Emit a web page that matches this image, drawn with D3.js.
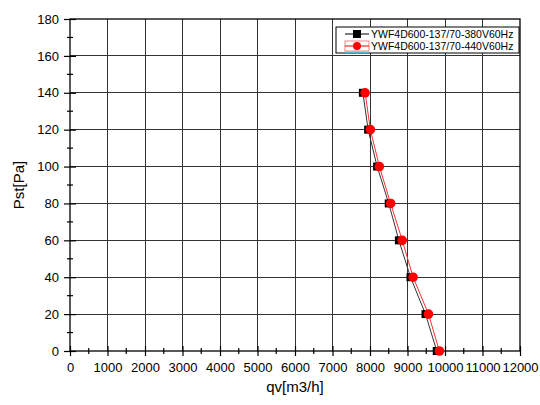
<!DOCTYPE html>
<html>
<head>
<meta charset="utf-8">
<script src="https://cdn.jsdelivr.net/npm/d3@7"></script>
<style>
  body { margin: 0; background: #fff; }
  svg { display: block; font-family: "Liberation Sans", Arial, sans-serif; }
</style>
</head>
<body>
<div id="chart"></div>
<script>
// pressure points (Pa), shared by both curves
const pressure = [140, 120, 100, 80, 60, 40, 20, 0];
// airflow (m3/h) for each curve
const flow380 = [7810, 7950, 8190, 8500, 8770, 9080, 9480, 9780];
const flow440 = [7870, 8010, 8250, 8550, 8860, 9150, 9560, 9850];
const seriesNames = ["YWF4D600-137/70-380V60Hz", "YWF4D600-137/70-440V60Hz"];
const xTicks = d3.range(0, 12001, 1000);
const yTicks = d3.range(0, 181, 20);

const W = 540, H = 405;
const margin = { top: 19, right: 20, bottom: 54, left: 70 };
const iw = W - margin.left - margin.right;
const ih = H - margin.top - margin.bottom;

const svg = d3.select("#chart").append("svg")
  .attr("width", W).attr("height", H);
const g = svg.append("g").attr("transform", `translate(${margin.left},${margin.top})`);

const x = d3.scaleLinear().domain([0, 12000]).range([0, iw]);
const y = d3.scaleLinear().domain([0, 180]).range([ih, 0]);

// grid
g.append("g").selectAll("line").data(xTicks.slice(1, -1)).enter().append("line")
  .attr("x1", d => x(d)).attr("x2", d => x(d)).attr("y1", 0).attr("y2", ih)
  .attr("stroke", "#333").attr("stroke-width", 1).attr("shape-rendering", "crispEdges");
g.append("g").selectAll("line").data(yTicks.slice(1, -1)).enter().append("line")
  .attr("y1", d => y(d)).attr("y2", d => y(d)).attr("x1", 0).attr("x2", iw)
  .attr("stroke", "#333").attr("stroke-width", 1).attr("shape-rendering", "crispEdges");

// frame
g.append("rect").attr("width", iw).attr("height", ih)
  .attr("fill", "none").attr("stroke", "#000").attr("stroke-width", 1.3);

// x axis
const xAxis = g.append("g").attr("transform", `translate(0,${ih})`)
  .call(d3.axisBottom(x).tickValues(xTicks).tickSize(5).tickPadding(7).tickFormat(d3.format("d")));
xAxis.select(".domain").remove();
xAxis.selectAll(".tick line").attr("y1", -5).attr("stroke-width", 1.2);
xAxis.selectAll("text").style("font-size", "13px").attr("fill", "#000");
g.append("g").selectAll("line").data(d3.range(500, 12000, 1000)).enter().append("line")
  .attr("x1", d => x(d)).attr("x2", d => x(d)).attr("y1", ih - 3).attr("y2", ih + 3)
  .attr("stroke", "#000").attr("stroke-width", 1.2);

// y axis
const yAxis = g.append("g")
  .call(d3.axisLeft(y).tickValues(yTicks).tickSize(6).tickPadding(5));
yAxis.select(".domain").remove();
yAxis.selectAll(".tick line").attr("x1", 6).attr("x2", -6).attr("stroke-width", 1.2);
yAxis.selectAll("text").style("font-size", "13px").attr("fill", "#000");
g.append("g").selectAll("line").data(d3.range(10, 180, 20)).enter().append("line")
  .attr("y1", d => y(d)).attr("y2", d => y(d)).attr("x1", -3).attr("x2", 3)
  .attr("stroke", "#000").attr("stroke-width", 1.2);

// axis titles
svg.append("text").attr("x", margin.left + iw / 2).attr("y", 392)
  .attr("text-anchor", "middle").style("font-size", "15px").text("qv[m3/h]");
svg.append("text").attr("transform", `translate(24,${margin.top + ih / 2}) rotate(-90)`)
  .attr("text-anchor", "middle").style("font-size", "15px").text("Pst[Pa]");

// curves
const line = d3.line().x(d => x(d[0])).y(d => y(d[1]));
const d380 = flow380.map((f, i) => [f, pressure[i]]);
const d440 = flow440.map((f, i) => [f, pressure[i]]);

g.append("path").datum(d380).attr("d", line)
  .attr("fill", "none").attr("stroke", "#333").attr("stroke-width", 1);
g.append("path").datum(d440).attr("d", line)
  .attr("fill", "none").attr("stroke", "#ff3030").attr("stroke-width", 1);

g.selectAll(".sq").data(d380).enter().append("rect")
  .attr("x", d => x(d[0]) - 4).attr("y", d => y(d[1]) - 4)
  .attr("width", 8).attr("height", 8).attr("fill", "#000");
g.selectAll(".ci").data(d440).enter().append("circle")
  .attr("cx", d => x(d[0])).attr("cy", d => y(d[1])).attr("r", 4.8)
  .attr("fill", "#ff0000");

// legend
const lg = svg.append("g").attr("transform", "translate(336,27)");
lg.append("rect").attr("width", 183).attr("height", 26)
  .attr("fill", "#fff").attr("stroke", "#000").attr("stroke-width", 1);
lg.append("line").attr("x1", 9).attr("x2", 33).attr("y1", 7).attr("y2", 7)
  .attr("stroke", "#000");
lg.append("rect").attr("x", 17).attr("y", 3).attr("width", 8).attr("height", 8).attr("fill", "#000");
lg.append("text").attr("x", 35).attr("y", 11).style("font-size", "10.5px").text(seriesNames[0]);

lg.append("rect").attr("x", 9).attr("y", 14).attr("width", 24).attr("height", 10)
  .attr("fill", "none").attr("stroke", "#ff8080").attr("stroke-width", 1);
lg.append("line").attr("x1", 9).attr("x2", 33).attr("y1", 25).attr("y2", 25)
  .attr("stroke", "#33e0ff").attr("stroke-width", 1.2);
lg.append("line").attr("x1", 9).attr("x2", 33).attr("y1", 19).attr("y2", 19)
  .attr("stroke", "#ff0000");
lg.append("circle").attr("cx", 21).attr("cy", 19).attr("r", 4).attr("fill", "#ff0000");
lg.append("text").attr("x", 35).attr("y", 23).style("font-size", "10.5px").text(seriesNames[1]);
</script>
</body>
</html>
